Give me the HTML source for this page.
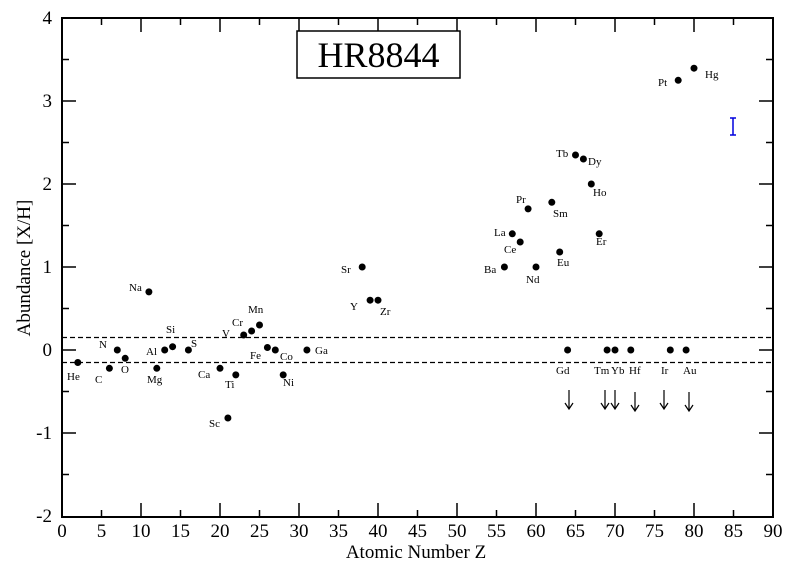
<!DOCTYPE html>
<html><head><meta charset="utf-8"><style>body{margin:0;background:#fff}svg{display:block}text{font-family:"Liberation Serif",serif}</style></head><body>
<svg width="796" height="572" viewBox="0 0 796 572" xmlns="http://www.w3.org/2000/svg">
<rect x="62" y="18" width="711" height="499" fill="none" stroke="#000" stroke-width="2"/>
<g stroke="#000" stroke-width="1.5">
<!-- x ticks -->
<path d="M62,517v-14M101.5,517v-7M141,517v-14M180.5,517v-7M220,517v-14M259.5,517v-7M299,517v-14M338.5,517v-7M378,517v-14M417.5,517v-7M457,517v-14M496.5,517v-7M536,517v-14M575.5,517v-7M615,517v-14M654.5,517v-7M694,517v-14M733.5,517v-7
M101.5,18v7M141,18v14M180.5,18v7M220,18v14M259.5,18v7M299,18v14M338.5,18v7M378,18v14M417.5,18v7M457,18v14M496.5,18v7M536,18v14M575.5,18v7M615,18v14M654.5,18v7M694,18v14M733.5,18v7"/>
<path d="M62,18h14M62,59.5h7M62,101h14M62,142.5h7M62,184h14M62,225.5h7M62,267h14M62,308.5h7M62,350h14M62,391.5h7M62,433h14M62,474.5h7
M773,59.5h-7M773,101h-14M773,142.5h-7M773,184h-14M773,225.5h-7M773,267h-14M773,308.5h-7M773,350h-14M773,391.5h-7M773,433h-14M773,474.5h-7"/>
</g>
<g stroke="#000" stroke-width="1.2" stroke-dasharray="5,3">
<line x1="62" y1="337.5" x2="773" y2="337.5"/><line x1="62" y1="362.5" x2="773" y2="362.5"/>
</g>
<g font-size="19" text-anchor="end">
<text x="52" y="24">4</text><text x="52" y="107">3</text><text x="52" y="190">2</text><text x="52" y="273">1</text><text x="52" y="356">0</text><text x="52" y="439">-1</text><text x="52" y="522">-2</text>
</g>
<g font-size="19" text-anchor="middle">
<text x="62" y="537">0</text><text x="101.5" y="537">5</text><text x="141" y="537">10</text><text x="180.5" y="537">15</text><text x="220" y="537">20</text><text x="259.5" y="537">25</text><text x="299" y="537">30</text><text x="338.5" y="537">35</text><text x="378" y="537">40</text><text x="417.5" y="537">45</text><text x="457" y="537">50</text><text x="496.5" y="537">55</text><text x="536" y="537">60</text><text x="575.5" y="537">65</text><text x="615" y="537">70</text><text x="654.5" y="537">75</text><text x="694" y="537">80</text><text x="733.5" y="537">85</text><text x="773" y="537">90</text>
<text x="416" y="558" font-size="19">Atomic Number Z</text>
<text transform="translate(30,268) rotate(-90)" font-size="19">Abundance [X/H]</text>
</g>
<rect x="297" y="31" width="163" height="47" fill="#fff" stroke="#000" stroke-width="1.5"/>
<text x="378.5" y="67" font-size="36" text-anchor="middle">HR8844</text>
<g fill="#000">
<circle cx="77.8" cy="362.5" r="3.5"/><circle cx="109.4" cy="368.3" r="3.5"/><circle cx="117.3" cy="350" r="3.5"/><circle cx="125.2" cy="358.3" r="3.5"/><circle cx="148.9" cy="291.9" r="3.5"/><circle cx="156.8" cy="368.3" r="3.5"/><circle cx="164.7" cy="350" r="3.5"/><circle cx="172.6" cy="346.7" r="3.5"/><circle cx="188.4" cy="350" r="3.5"/><circle cx="220" cy="368.3" r="3.5"/><circle cx="227.9" cy="418" r="3.5"/><circle cx="235.8" cy="374.9" r="3.5"/><circle cx="243.7" cy="335" r="3.5"/><circle cx="251.6" cy="331" r="3.5"/><circle cx="259.5" cy="325" r="3.5"/><circle cx="267.4" cy="347.5" r="3.5"/><circle cx="275.3" cy="350" r="3.5"/><circle cx="283.2" cy="374.9" r="3.5"/><circle cx="306.9" cy="350" r="3.5"/><circle cx="362.2" cy="267" r="3.5"/><circle cx="370.1" cy="300.2" r="3.5"/><circle cx="378" cy="300.2" r="3.5"/><circle cx="504.4" cy="267" r="3.5"/><circle cx="512.3" cy="233.8" r="3.5"/><circle cx="520.2" cy="242" r="3.5"/><circle cx="528.1" cy="208.9" r="3.5"/><circle cx="536" cy="267" r="3.5"/><circle cx="551.8" cy="202.3" r="3.5"/><circle cx="559.7" cy="252" r="3.5"/><circle cx="567.6" cy="350" r="3.5"/><circle cx="575.5" cy="155" r="3.5"/><circle cx="583.4" cy="159" r="3.5"/><circle cx="591.3" cy="184" r="3.5"/><circle cx="599.2" cy="233.8" r="3.5"/><circle cx="607.1" cy="350" r="3.5"/><circle cx="615" cy="350" r="3.5"/><circle cx="630.8" cy="350" r="3.5"/><circle cx="670.3" cy="350" r="3.5"/><circle cx="686.1" cy="350" r="3.5"/><circle cx="678.2" cy="80.3" r="3.5"/><circle cx="694" cy="68.2" r="3.5"/>
</g>
<g font-size="11">
<text x="67" y="380">He</text><text x="95" y="383">C</text><text x="99" y="348">N</text><text x="121" y="373">O</text><text x="129" y="291">Na</text><text x="147" y="383">Mg</text><text x="146" y="355">Al</text><text x="166" y="333">Si</text><text x="191" y="347">S</text><text x="198" y="378">Ca</text><text x="209" y="427">Sc</text><text x="225" y="388">Ti</text><text x="222" y="337">V</text><text x="232" y="326">Cr</text><text x="248" y="313">Mn</text><text x="250" y="359">Fe</text><text x="280" y="360">Co</text><text x="283" y="386">Ni</text><text x="315" y="354">Ga</text><text x="341" y="273">Sr</text><text x="350" y="310">Y</text><text x="380" y="315">Zr</text><text x="484" y="273">Ba</text><text x="494" y="236">La</text><text x="504" y="253">Ce</text><text x="516" y="203">Pr</text><text x="526" y="283">Nd</text><text x="553" y="217">Sm</text><text x="557" y="266">Eu</text><text x="556" y="157">Tb</text><text x="588" y="165">Dy</text><text x="593" y="196">Ho</text><text x="596" y="245">Er</text><text x="658" y="86">Pt</text><text x="705" y="78">Hg</text><text x="556" y="374">Gd</text><text x="594" y="374">Tm</text><text x="611" y="374">Yb</text><text x="629" y="374">Hf</text><text x="661" y="374">Ir</text><text x="683" y="374">Au</text>
</g>
<g stroke="#000" stroke-width="1.2" fill="none">
<path d="M569,390v19M565,403l4,6l4,-6"/><path d="M605,390v19M601,403l4,6l4,-6"/><path d="M615,390v19M611,403l4,6l4,-6"/><path d="M635,392v19M631,405l4,6l4,-6"/><path d="M664,390v19M660,403l4,6l4,-6"/><path d="M689,392v19M685,405l4,6l4,-6"/>
</g>
<g stroke="#0000dd" stroke-width="1.5"><path d="M733,118v17M730,118h6M730,135h6"/></g>
</svg>
</body></html>
